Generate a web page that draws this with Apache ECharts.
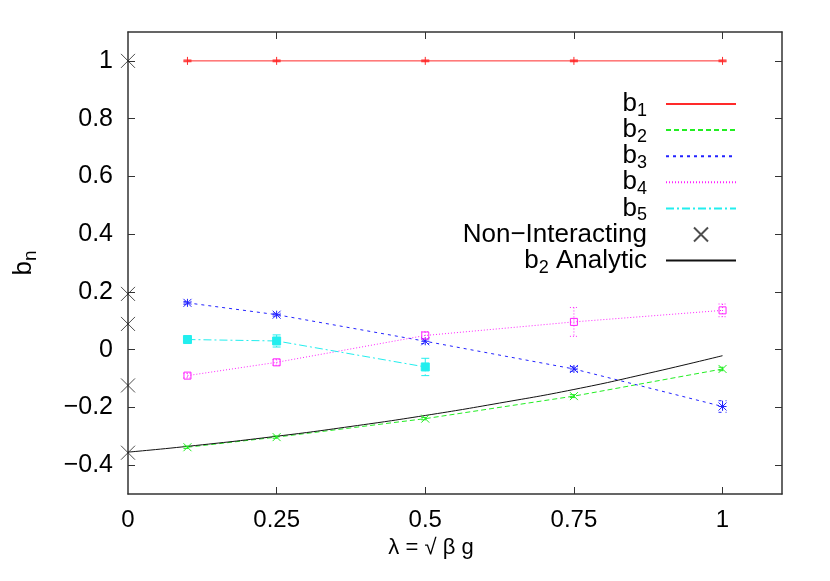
<!DOCTYPE html>
<html>
<head>
<meta charset="utf-8">
<script src="https://cdn.jsdelivr.net/npm/echarts@6/dist/echarts.min.js"></script>
<style>html,body{margin:0;padding:0;background:#fff;}#c{width:830px;height:581px;}</style>
</head>
<body>
<div id="c"></div>
<script>
// ---- data ----
const xs = [0.1, 0.25, 0.5, 0.75, 1.0];
const b1 = [1.0, 1.0, 1.0, 1.0, 1.0];
const b1Err = [0.003, 0.003, 0.003, 0.003, 0.003];
const b2 = [-0.338, -0.303, -0.239, -0.161, -0.067];
const b2Err = [0.004, 0.004, 0.004, 0.005, 0.006];
const b3 = [0.162, 0.121, 0.029, -0.067, -0.197];
const b3Err = [0.005, 0.005, 0.008, 0.008, 0.02];
const b4 = [-0.090, -0.044, 0.049, 0.096, 0.136];
const b4Err = [0.008, 0.01, 0.013, 0.05, 0.022];
const b5x = [0.1, 0.25, 0.5];
const b5 = [0.035, 0.030, -0.060];
const b5Err = [0.005, 0.021, 0.03];
const nonIntX = [0, 0, 0, 0, 0];
const nonInt = [1.0, 0.193, 0.089, -0.124, -0.357];
const analyticX = [0, 0.1, 0.25, 0.375, 0.5, 0.625, 0.75, 0.875, 1.0];
const analytic = [-0.355, -0.335, -0.300, -0.266, -0.228, -0.185, -0.138, -0.082, -0.021];
const xTicks = [0, 0.25, 0.5, 0.75, 1];
const yTicks = [-0.4, -0.2, 0, 0.2, 0.4, 0.6, 0.8, 1];

const FONT = "'Liberation Sans', Arial, sans-serif";
const pairs = (a, b) => a.map((v, i) => [v, b[i]]);
const triples = (a, b, c) => a.map((v, i) => [v, b[i], c[i]]);

function lineSeries(name, x, y, color, dash) {
  return {
    name, type: 'line', data: pairs(x, y), symbol: 'none', z: 2,
    lineStyle: { color, width: 1, type: dash }, itemStyle: { color },
    animation: false
  };
}
function markerSeries(x, y, e, color, shape, dash) {
  return {
    type: 'custom', data: triples(x, y, e), z: 3, animation: false,
    encode: { x: 0, y: 1 },
    renderItem(params, api) {
      const vx = api.value(0), vy = api.value(1), ve = api.value(2);
      const p = api.coord([vx, vy]);
      const t = api.coord([vx, vy + ve]);
      const b = api.coord([vx, vy - ve]);
      const st = { stroke: color, lineWidth: 1, fill: null };
      const stD = Object.assign({}, st, { lineDash: dash });
      const ch = [];
      const ln = (x1, y1, x2, y2, s) => ch.push({ type: 'line', shape: { x1, y1, x2, y2 }, style: s || st });
      if (ve > 0) {
        ln(t[0], t[1], b[0], b[1], stD);
        ln(t[0] - 4, t[1], t[0] + 4, t[1], stD);
        ln(b[0] - 4, b[1], b[0] + 4, b[1], stD);
      }
      const s = 4;
      if (shape === 'plus' || shape === 'star') {
        ln(p[0] - s, p[1], p[0] + s, p[1]);
        ln(p[0], p[1] - s, p[0], p[1] + s);
      }
      if (shape === 'cross' || shape === 'star') {
        ln(p[0] - s, p[1] - s, p[0] + s, p[1] + s);
        ln(p[0] - s, p[1] + s, p[0] + s, p[1] - s);
      }
      if (shape === 'square') {
        ch.push({ type: 'rect', shape: { x: p[0] - 3.5, y: p[1] - 3.5, width: 7, height: 7 }, style: { stroke: color, fill: null, lineWidth: 1 } });
      }
      if (shape === 'fsquare') {
        ch.push({ type: 'rect', shape: { x: p[0] - 4, y: p[1] - 4, width: 8, height: 8 }, style: { fill: color, stroke: color, lineWidth: 1 } });
      }
      return { type: 'group', children: ch };
    }
  };
}

const C1 = '#ff2a2a', C2 = '#22ee22', C3 = '#2222ff', C4 = '#ff22ff', C5 = '#22eeee';
const legendNames = {
  'b1': 'b{sub|1}{gap|}', 'b2': 'b{sub|2}{gap|}', 'b3': 'b{sub|3}{gap|}',
  'b4': 'b{sub|4}{gap|}', 'b5': 'b{sub|5}{gap|}',
  'Non-Interacting': 'Non\u2212Interacting{gap|}', 'b2 Analytic': 'b{sub|2} Analytic{gap|}'
};
const fmtY = v => {
  const r = Math.round(v * 10) / 10;
  if (r === 0) return '0';
  return (r < 0 ? '\u2212' : '') + String(Math.abs(r));
};
const hideSym = { opacity: 0 };

const chart = echarts.init(document.getElementById('c'));
chart.setOption({
  animation: false,
  backgroundColor: '#fff',
  textStyle: { fontFamily: FONT },
  grid: { left: 128, top: 32, right: 48, bottom: 87, containLabel: false, outerBoundsMode: 'none' },
  legend: {
    orient: 'vertical', right: 88, top: 83, align: 'right',
    itemWidth: 70, itemHeight: 14, itemGap: -5.9,
    data: [
      { name: 'b1', itemStyle: hideSym }, { name: 'b2', itemStyle: hideSym },
      { name: 'b3', itemStyle: hideSym }, { name: 'b4', itemStyle: hideSym },
      { name: 'b5', itemStyle: hideSym }, { name: 'Non-Interacting' },
      { name: 'b2 Analytic', itemStyle: hideSym }
    ],
    formatter: n => legendNames[n],
    textStyle: {
      fontFamily: FONT, fontSize: 26, color: '#000', lineHeight: 26,
      rich: {
        sub: { fontFamily: FONT, fontSize: 18, lineHeight: 12, padding: [14, 0, 0, 0], color: '#000' },
        gap: { width: 14, fontSize: 18, lineHeight: 12, padding: [14, 0, 0, 0] }
      }
    }
  },
  xAxis: [{
    type: 'value', min: 0, max: 1.1, position: 'bottom',
    name: '\u03bb = \u221a \u03b2 g', nameLocation: 'middle', nameGap: 41,
    nameTextStyle: { fontFamily: FONT, fontSize: 22, color: '#000', padding: [0, 48, 0, 0] },
    axisLine: { show: true, onZero: false, lineStyle: { color: '#333', width: 1.5 } },
    axisTick: { show: true, inside: true, length: 7, customValues: [0.25, 0.5, 0.75, 1], lineStyle: { color: '#333' } },
    axisLabel: { customValues: xTicks, margin: 14, fontFamily: FONT, fontSize: 24, color: '#000', formatter: v => String(v) },
    splitLine: { show: false }
  }, {
    type: 'value', min: 0, max: 1.1, position: 'top',
    axisLine: { show: true, onZero: false, lineStyle: { color: '#333', width: 1.5 } },
    axisTick: { show: true, inside: true, length: 7, customValues: [0.25, 0.5, 0.75, 1], lineStyle: { color: '#333' } },
    axisLabel: { show: false }, splitLine: { show: false }
  }],
  yAxis: [{
    type: 'value', min: -0.5, max: 1.1, position: 'left',
    name: 'b{sub|n}', nameLocation: 'middle', nameGap: 88, nameRotate: 90,
    nameTextStyle: { fontFamily: FONT, fontSize: 26, color: '#000',
      rich: { sub: { fontFamily: FONT, fontSize: 19, padding: [14, 0, 0, 0], color: '#000' } } },
    axisLine: { show: true, onZero: false, lineStyle: { color: '#333', width: 1.5 } },
    axisTick: { show: true, inside: true, length: 7, customValues: yTicks, lineStyle: { color: '#333' } },
    axisLabel: { customValues: yTicks, margin: 15, fontFamily: FONT, fontSize: 25, color: '#000', formatter: fmtY },
    splitLine: { show: false }
  }, {
    type: 'value', min: -0.5, max: 1.1, position: 'right',
    axisLine: { show: true, onZero: false, lineStyle: { color: '#333', width: 1.5 } },
    axisTick: { show: true, inside: true, length: 7, customValues: yTicks, lineStyle: { color: '#333' } },
    axisLabel: { show: false }, splitLine: { show: false }
  }],
  series: [
    lineSeries('b1', xs, b1, C1, 'solid'),
    lineSeries('b2', xs, b2, C2, [5, 3]),
    lineSeries('b3', xs, b3, C3, [3, 4]),
    lineSeries('b4', xs, b4, C4, [1, 2]),
    lineSeries('b5', b5x, b5, C5, [8, 3, 2, 3]),
    {
      name: 'Non-Interacting', type: 'scatter', data: pairs(nonIntX, nonInt), z: 4,
      symbol: 'path://M0,0L10,10M10,0L0,10', symbolSize: 14, symbolKeepAspect: true,
      itemStyle: { color: 'rgba(0,0,0,0)', borderColor: '#222', borderWidth: 1 },
      clip: false, animation: false
    },
    {
      name: 'b2 Analytic', type: 'line', data: pairs(analyticX, analytic), symbol: 'none', smooth: true, z: 2,
      lineStyle: { color: '#111', width: 1 }, itemStyle: { color: '#111' }, animation: false
    },
    markerSeries(xs, b1, b1Err, C1, 'plus', null),
    markerSeries(xs, b2, b2Err, C2, 'cross', [5, 3]),
    markerSeries(xs, b3, b3Err, C3, 'star', [3, 4]),
    markerSeries(xs, b4, b4Err, C4, 'square', [1, 2]),
    markerSeries(b5x, b5, b5Err, C5, 'fsquare', [8, 3, 2, 3])
  ]
});
</script>
</body>
</html>
